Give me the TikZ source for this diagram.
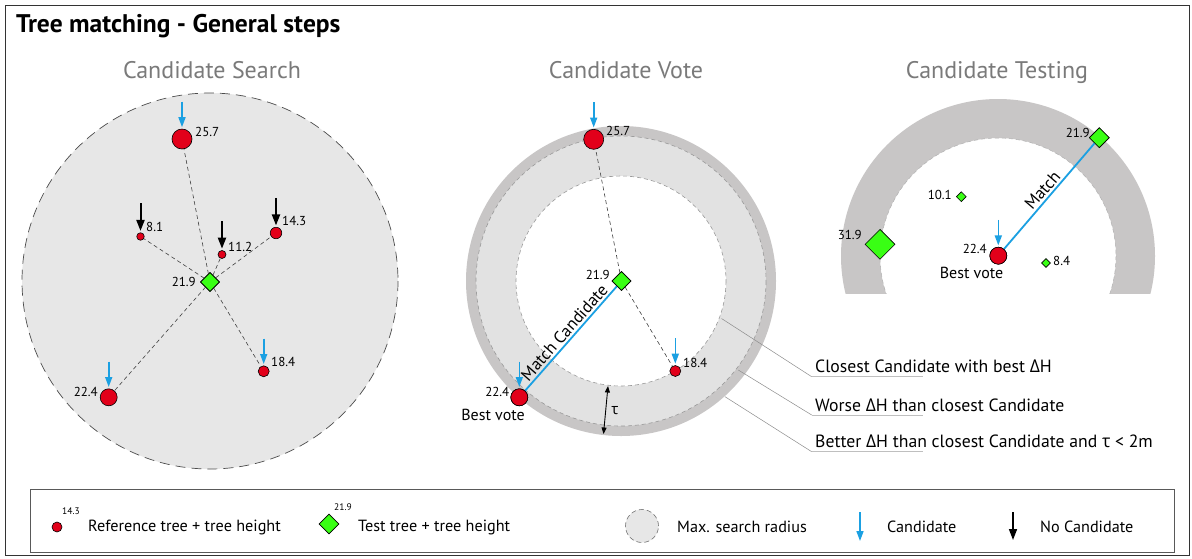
\documentclass[tikz,border=0pt]{standalone}
\usepackage{fontspec}
\setmainfont{PT Sans}
\newfontfamily\gr{Open Sans}
\usetikzlibrary{arrows.meta,shapes.geometric,calc}
\definecolor{treered}{RGB}{226,0,26}
\definecolor{treegreen}{RGB}{57,255,20}
\definecolor{cblue}{RGB}{27,160,226}
\definecolor{ringdark}{RGB}{200,198,198}
\definecolor{ringlight}{RGB}{226,226,226}
\definecolor{searchfill}{RGB}{231,231,231}
\definecolor{titlegray}{RGB}{122,122,122}
\begin{document}
\begin{tikzpicture}[x=1pt,y=-1pt,
  ref/.style={circle,draw=black,line width=0.6pt,fill=treered,inner sep=0pt,minimum size=#1},
  test/.style={diamond,draw=black,line width=0.6pt,fill=treegreen,inner sep=0pt,minimum size=#1},
  num/.style={font=\fontsize{13}{13}\selectfont,inner sep=0pt},
  carrow/.style={draw=cblue,line width=1.6pt,-{Triangle[length=10pt,width=7pt]}},
  narrow/.style={draw=black,line width=2pt,-{Triangle[length=11pt,width=8pt]}},
  link/.style={draw=black!75,line width=0.6pt,dash pattern=on 4pt off 3pt},
  ringedge/.style={draw=black!40,line width=0.6pt,dash pattern=on 4pt off 3pt},
  match/.style={draw=cblue,line width=1.8pt},
  ptitle/.style={font=\fontsize{24}{24}\selectfont,text=titlegray,inner sep=0pt,anchor=base},
  lead/.style={draw=black!45,line width=0.5pt},
  uline/.style={draw=black!25,line width=0.6pt},
  leadtext/.style={font=\fontsize{17.7}{17.7}\selectfont,anchor=base west,inner sep=0pt},
  legtext/.style={font=\fontsize{16.2}{16.2}\selectfont,anchor=west,inner sep=0pt},
  small/.style={font=\fontsize{9.5}{9.5}\selectfont,inner sep=0pt},
  mlabel/.style={font=\fontsize{17}{17}\selectfont,inner sep=2pt},
  bvote/.style={inner sep=0pt,font=\fontsize{16}{16}\selectfont},
]
\useasboundingbox (0,0) rectangle (1192,558);
\fill[white] (0,0) rectangle (1192,558);
% frame
\draw[line width=1.2pt,draw=black!80] (5.5,5.5) rectangle (1189.5,555.5);
\node[anchor=base west,inner sep=0pt,font=\fontsize{25.5}{25.5}\selectfont\bfseries] (title) at (16,32) {Tree matching - General steps};

% ---------- Candidate Search ----------
\node[ptitle] (t1) at (212,78) {Candidate Search};
\coordinate (sc) at (210,281);
\draw[fill=searchfill,draw=black!70,line width=0.7pt,dash pattern=on 10pt off 6pt] (sc) circle[radius=188];
\node[test=19] (Sc) at (210,282) {};
\node[ref=20] (Sa) at (182,139) {};
\node[ref=7.5] (Sb) at (140.5,236.5) {};
\node[ref=8] (Sd) at (222,254.5) {};
\node[ref=11.5] (Se) at (276,233) {};
\node[ref=11] (Sf) at (263.7,371.3) {};
\node[ref=17] (Sg) at (108.7,397.3) {};
\foreach \n in {Sa,Sb,Sd,Se,Sf,Sg} {\draw[link] (Sc) -- (\n);}
\node[test=19] at (Sc) {};
\node[num,anchor=east] (lSc) at (196,282) {21.9};
\node[num,anchor=west] (lSa) at (195,132) {25.7};
\node[num,anchor=west] (lSb) at (146,227) {8.1};
\node[num,anchor=west] (lSd) at (228,247) {11.2};
\node[num,anchor=west] (lSe) at (282,221) {14.3};
\node[num,anchor=west] (lSf) at (271,362) {18.4};
\node[num,anchor=east] (lSg) at (98,392) {22.4};
\draw[carrow] ([yshift=27pt]Sa.north) -- ([yshift=1.5pt]Sa.north);
\draw[carrow] ([yshift=27pt]Sf.north) -- ([yshift=1.5pt]Sf.north);
\draw[carrow] ([yshift=27pt]Sg.north) -- ([yshift=1.5pt]Sg.north);
\draw[narrow] ([yshift=29pt]Sb.north) -- ([yshift=1.5pt]Sb.north);
\draw[narrow] ([yshift=29pt]Sd.north) -- ([yshift=1.5pt]Sd.north);
\draw[narrow] ([yshift=29pt]Se.north) -- ([yshift=1.5pt]Se.north);

% ---------- Candidate Vote ----------
\node[ptitle] (t2) at (626,78) {Candidate Vote};
\coordinate (vc) at (621,281);
\fill[ringdark] (vc) circle[radius=155];
\draw[ringedge,fill=ringlight] (vc) circle[radius=145];
\draw[ringedge,fill=white] (vc) circle[radius=105];
% leader lines
\coordinate (L1s) at (721.5,318.5);
\coordinate (L1b) at (811.7,376.7);
\coordinate (L1e) at (923,376.7);
\coordinate (L2s) at (738.3,370);
\coordinate (L2b) at (811.7,415);
\coordinate (L2e) at (923,415);
\coordinate (L3s) at (725,396.7);
\coordinate (L3b) at (811.7,451.7);
\coordinate (L3e) at (923,451.7);
\draw[lead] (L1s) -- (L1b);
\draw[lead] (L2s) -- (L2b);
\draw[lead] (L3s) -- (L3b);
\draw[uline] (L1b) -- (L1e);
\draw[uline] (L2b) -- (L2e);
\draw[uline] (L3b) -- (L3e);
\node[leadtext] (d1) at (815,372.5) {Closest Candidate with best {\gr Δ}H};
\node[leadtext] (d2) at (815,411) {Worse {\gr Δ}H than closest Candidate};
\node[leadtext] (d3) at (815,447.7) {Better {\gr Δ}H than closest Candidate and {\gr τ} < 2m};
% trees
\node[test=19] (Vc) at (621.5,281) {};
\node[ref=20] (Va) at (593.7,139.3) {};
\node[ref=11] (Vf) at (675.3,371) {};
\node[ref=17] (Vg) at (519.3,397.3) {};
\draw[link] (Vc) -- (Va);
\draw[link] (Vc) -- (Vf);
\draw[match] (Vg) -- node[mlabel,midway,above,sloped] {Match Candidate} (Vc);
\node[test=19] at (Vc) {};
\node[ref=17] at (Vg) {};
\node[num,anchor=east] (lVc) at (610,275) {21.9};
\node[num,anchor=west] (lVa) at (606,131) {25.7};
\node[num,anchor=west] (lVf) at (683,363) {18.4};
\node[num,anchor=east] (lVg) at (509.5,392) {22.4};
\node[bvote] (bv1) at (493,415) {Best vote};
\draw[carrow] ([yshift=27pt]Va.north) -- ([yshift=1.5pt]Va.north);
\draw[carrow] ([yshift=27pt]Vf.north) -- ([yshift=1.5pt]Vf.north);
\draw[carrow] ([yshift=27pt]Vg.north) -- ([yshift=1.5pt]Vg.north);
\coordinate (ta) at (608,386);
\coordinate (tb) at (603.5,434);
\draw[line width=0.9pt,{Triangle[length=6.5pt,width=5pt]}-{Triangle[length=6.5pt,width=5pt]}] (ta) -- (tb);
\node[inner sep=0pt,font=\fontsize{15}{15}\selectfont\gr] (tau) at (615,411) {τ};

% ---------- Candidate Testing ----------
\node[ptitle] (t3) at (997,78) {Candidate Testing};
\coordinate (tc) at (998,256);
\begin{scope}
\clip (800,80) rectangle (1192,293);
\fill[ringdark,even odd rule] (tc) circle[radius=157] (tc) circle[radius=118];
\draw[draw=black!30,line width=0.5pt,dash pattern=on 4pt off 3pt] (tc) circle[radius=118];
\end{scope}
\node[ref=17] (Tr) at (998.3,255.7) {};
\node[test=20] (Ta) at (1099.3,137.7) {};
\node[test=10] (Tb) at (961.3,196.7) {};
\node[test=30] (Tc) at (880,244.3) {};
\node[test=9] (Td) at (1046,263) {};
\draw[match] (Tr) -- node[mlabel,midway,above,sloped] {Match} (Ta);
\node[ref=17] at (Tr) {};
\node[test=20] at (Ta) {};
\node[num,anchor=east] (lTa) at (1090,133) {21.9};
\node[num,anchor=east] (lTb) at (952,195) {10.1};
\node[num,anchor=east] (lTc) at (862,235) {31.9};
\node[num,anchor=west] (lTd) at (1053,261) {8.4};
\node[num,anchor=east] (lTr) at (987,249) {22.4};
\node[bvote] (bv2) at (971.5,273) {Best vote};
\draw[carrow] ([yshift=27pt]Tr.north) -- ([yshift=1.5pt]Tr.north);

% ---------- Legend ----------
\draw[line width=1pt,draw=black!65] (30,489) rectangle (1174,552.5);
\node[ref=10] (Lr) at (57,527) {};
\node[small,anchor=west] (Lrn) at (62,511) {14.3};
\node[legtext] (Lrt) at (88,527) {Reference tree + tree height};
\node[test=20] (Lg) at (329,524) {};
\node[small,anchor=west] (Lgn) at (334,507) {21.9};
\node[legtext] (Lgt) at (358,527) {Test tree + tree height};
\node[circle,fill=searchfill,draw=black!55,line width=0.6pt,dash pattern=on 5pt off 3pt,minimum size=33pt,inner sep=0pt] (Lc) at (642,526) {};
\node[legtext] (Lct) at (677,527) {Max. search radius};
\coordinate (Lba) at (860,512);
\coordinate (Lbb) at (860,541);
\draw[carrow] (Lba) -- (Lbb);
\node[legtext] (Lbt) at (887,527) {Candidate};
\coordinate (Lka) at (1013,512);
\coordinate (Lkb) at (1013,540);
\draw[narrow,line width=1.6pt] (Lka) -- (Lkb);
\node[legtext] (Lkt) at (1040,527) {No Candidate};
\end{tikzpicture}
\end{document}
